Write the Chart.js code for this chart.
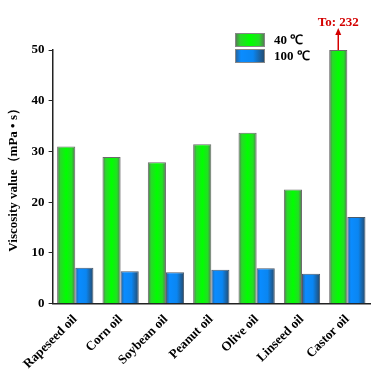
<!DOCTYPE html>
<html>
<head>
<meta charset="utf-8">
<script src="https://cdn.jsdelivr.net/npm/chart.js@4.4.1/dist/chart.umd.min.js"></script>
<style>
  html, body { margin: 0; padding: 0; background: #fff; }
  #wrap { width: 374px; height: 370px; }
</style>
</head>
<body>
<div id="wrap"><canvas id="myChart"></canvas></div>
<script>
// data
const oils = ['Rapeseed oil', 'Corn oil', 'Soybean oil', 'Peanut oil', 'Olive oil', 'Linseed oil', 'Castor oil'];
const visc40 = [31.0, 28.9, 27.9, 31.4, 33.7, 22.5, 232];
const visc100 = [7.1, 6.4, 6.2, 6.7, 7.0, 5.9, 17.1];
const seriesLabels = ['40 \u2103', '100 \u2103'];
const yTicks = [0, 10, 20, 30, 40, 50];
const yMax = 50;

const serif = "'Liberation Serif', 'Times New Roman', serif";

function greenGrad(ctx, x0, x1) {
    const g = ctx.createLinearGradient(x0, 0, x1, 0);
    g.addColorStop(0, '#5d6e5d');
    g.addColorStop(0.18, '#2ad82a');
    g.addColorStop(0.5, '#00ff00');
    g.addColorStop(0.8, '#22e022');
    g.addColorStop(1, '#5d6e5d');
    return g;
}
function blueGrad(ctx, x0, x1) {
    const g = ctx.createLinearGradient(x0, 0, x1, 0);
    g.addColorStop(0, '#2e5e8c');
    g.addColorStop(0.2, '#0a8cff');
    g.addColorStop(0.6, '#0a86f2');
    g.addColorStop(1, '#264868');
    return g;
}
const gradFns = [greenGrad, blueGrad];

// paint each bar with a sideways gradient like the original
const barShade = {
    id: 'barShade',
    beforeDatasetsDraw(chart) {
        const ctx = chart.ctx;
        chart.data.datasets.forEach((ds, i) => {
            chart.getDatasetMeta(i).data.forEach(el => {
                const x0 = el.x - el.width / 2;
                el.options.backgroundColor = gradFns[i](ctx, x0, x0 + el.width);
            });
        });
    }
};

// legend boxes drawn inside the plot, plus the "To: 232" marker
const extras = {
    id: 'extras',
    afterDraw(chart) {
        const ctx = chart.ctx;
        const area = chart.chartArea;
        ctx.save();
        // legend
        const bx = area.right - 135, bw = 30, bh = 14;
        chart.data.datasets.forEach((ds, i) => {
            const by = 33 + i * 16;
            ctx.fillStyle = gradFns[i](ctx, bx, bx + bw);
            ctx.fillRect(bx, by, bw, bh);
            ctx.strokeStyle = '#888';
            ctx.lineWidth = 1;
            ctx.strokeRect(bx + 0.5, by + 0.5, bw - 1, bh - 1);
            ctx.fillStyle = '#000';
            ctx.font = 'bold 13px ' + serif;
            ctx.textAlign = 'left';
            ctx.textBaseline = 'middle';
            ctx.fillText(ds.label, bx + bw + 9, by + bh / 2 + 1);
        });
        // arrow over the clipped castor bar
        const last = oils.length - 1;
        if (visc40[last] > yMax) {
            const bar = chart.getDatasetMeta(0).data[last];
            const top = chart.scales.y.getPixelForValue(yMax);
            ctx.strokeStyle = '#d40000';
            ctx.fillStyle = '#d40000';
            ctx.lineWidth = 1.5;
            ctx.beginPath();
            ctx.moveTo(bar.x, top);
            ctx.lineTo(bar.x, top - 16);
            ctx.stroke();
            ctx.beginPath();
            ctx.moveTo(bar.x, top - 22);
            ctx.lineTo(bar.x - 3, top - 15);
            ctx.lineTo(bar.x + 3, top - 15);
            ctx.closePath();
            ctx.fill();
            ctx.font = 'bold 13px ' + serif;
            ctx.textAlign = 'center';
            ctx.textBaseline = 'bottom';
            ctx.fillText('To: ' + visc40[last], bar.x, top - 21);
        }
        ctx.restore();
    }
};

let ctx = document.getElementById('myChart').getContext('2d');

let myChart = new Chart(ctx, {
    type: 'bar',
    data: {
        labels: oils,
        datasets: [{
                label: seriesLabels[0],
                data: visc40.map(v => Math.min(v, yMax)),
                backgroundColor: () => '#00ff00',
                borderColor: '#6b6b6b',
                borderWidth: 1,
            },
            {
                label: seriesLabels[1],
                data: visc100,
                backgroundColor: () => '#0a8cff',
                borderColor: '#4a5a6a',
                borderWidth: 1,
            }
        ]
    },
    plugins: [barShade, extras],
    options: {
        responsive: true,
        maintainAspectRatio: false,
        animation: false,
        categoryPercentage: 0.8,
        barPercentage: 1.0,
        layout: {
            padding: { top: 50, right: 4, left: 6, bottom: -2 }
        },
        scales: {
            y: {
                min: 0,
                max: yMax,
                afterBuildTicks: axis => {
                    axis.ticks = yTicks.map(v => ({ value: v }));
                },
                ticks: {
                    color: '#000',
                    padding: 4,
                    font: { family: serif, size: 13, weight: 'bold' }
                },
                grid: {
                    display: true,
                    drawOnChartArea: false,
                    drawTicks: true,
                    tickLength: 4,
                    color: '#222'
                },
                border: { display: true, color: '#222', width: 1.5 },
                title: {
                    display: true,
                    text: 'Viscosity value\uff08mPa \u2022 s\uff09',
                    color: '#000',
                    padding: { top: 0, bottom: 6 },
                    font: { family: serif, size: 13, weight: 'bold' }
                }
            },
            x: {
                ticks: {
                    color: '#000',
                    maxRotation: 45,
                    minRotation: 45,
                    padding: 0,
                    font: { family: serif, size: 13, weight: 'bold' }
                },
                grid: { display: false },
                border: { display: true, color: '#222', width: 1.5 }
            }
        },
        plugins: {
            legend: { display: false },
            tooltip: { enabled: false }
        }
    }
});
</script>
</body>
</html>
